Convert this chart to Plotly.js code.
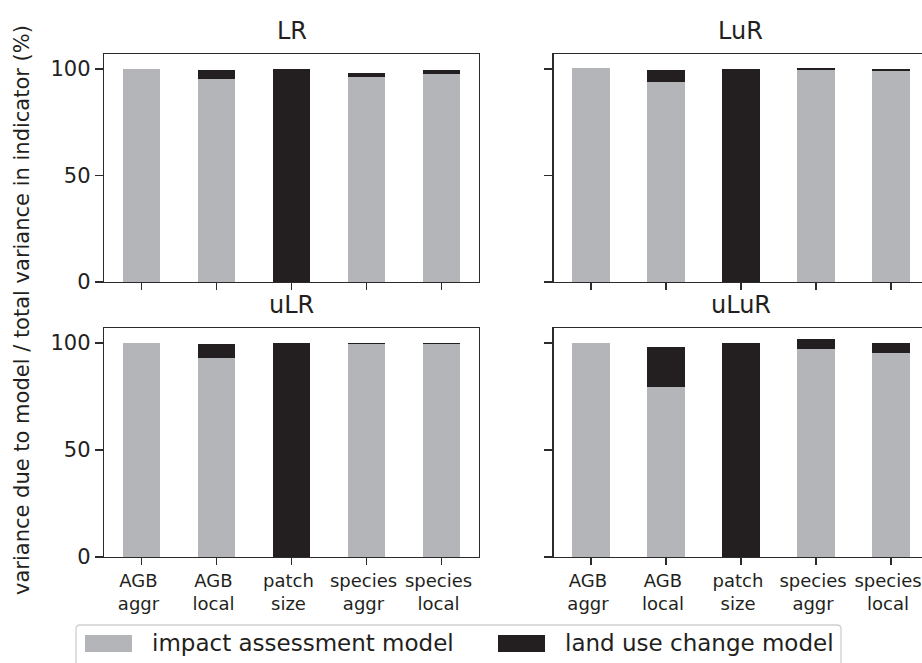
<!DOCTYPE html>
<html>
<head>
<meta charset="utf-8">
<script src="https://cdn.plot.ly/plotly-3.0.1.min.js"></script>
<style>html,body{margin:0;padding:0;background:#fff;}#chart{width:922px;height:663px;}</style>
</head>
<body>
<div id="chart"></div>
<script>
// ---- data ----
const categories = ["AGB<br>aggr", "AGB<br>local", "patch<br>size", "species<br>aggr", "species<br>local"];
const panelNames = ["LR", "LuR", "uLR", "uLuR"];
const seriesNames = ["impact assessment model", "land use change model"];

const impactLR   = [100.0, 95.3, 0.0, 96.2, 97.6];
const landuseLR  = [0.0, 4.2, 100.0, 1.9, 1.9];
const impactLuR  = [100.3, 93.9, 0.0, 99.5, 99.1];
const landuseLuR = [0.0, 5.6, 100.0, 0.9, 0.9];
const impactuLR  = [100.0, 93.0, 0.0, 99.5, 99.5];
const landuseuLR = [0.0, 6.5, 100.0, 0.4, 0.4];
const impactuLuR = [100.0, 79.4, 0.0, 97.2, 95.3];
const landuseuLuR= [0.0, 18.7, 100.0, 4.7, 4.7];

const yTicks = [0, 50, 100];

// ---- styling ----
const W = 922, H = 663;
const GREY = "#b4b5b8", BLACK = "#231f20", TXT = "#231f20", LINE = "#2b2b2b";
const FONT = "DejaVu Sans";
const px = v => v / W;            // x pixel -> paper
const py = v => 1 - v / H;        // y pixel (from top) -> paper

const impacts = [impactLR, impactLuR, impactuLR, impactuLuR];
const landuses = [landuseLR, landuseLuR, landuseuLR, landuseuLuR];

const traces = [];
for (let i = 0; i < 4; i++) {
  const ax = i === 0 ? "" : String(i + 1);
  traces.push({type: "bar", x: categories, y: impacts[i], name: seriesNames[0],
    marker: {color: GREY, line: {width: 0}}, width: 0.5,
    xaxis: "x" + ax, yaxis: "y" + ax, showlegend: false, hoverinfo: "skip"});
  traces.push({type: "bar", x: categories, y: landuses[i], name: seriesNames[1],
    marker: {color: BLACK, line: {width: 0}}, width: 0.5,
    xaxis: "x" + ax, yaxis: "y" + ax, showlegend: false, hoverinfo: "skip"});
}

const xDomL = [px(104), px(479)];
const xDomR = [px(553.5), 1];
const yDomT = [py(282), py(54)];
const yDomB = [py(557), py(328)];

function xAxis(domain, anchor, showLabels, right) {
  return {domain, anchor, type: "category", categoryorder: "array", categoryarray: categories,
    range: right ? [-0.5, 4.413] : [-0.5, 4.5], showgrid: false, zeroline: false,
    showline: true, mirror: true, linecolor: LINE, linewidth: 1.3,
    ticks: "outside", ticklen: 7, tickwidth: 1.3, tickcolor: LINE, ticklabelshift: -3,
    showticklabels: showLabels, tickfont: {family: FONT, size: 18, color: TXT}, fixedrange: true};
}
function yAxis(domain, anchor, showLabels, right) {
  return {domain, anchor, range: [0, 107], tickvals: yTicks, ticktext: yTicks.map(String),
    showgrid: false, zeroline: false, showline: true, mirror: !right, linecolor: LINE, linewidth: 1.3,
    ticks: "outside", ticklen: 8, tickwidth: 1.3, tickcolor: LINE,
    showticklabels: showLabels, tickfont: {family: FONT, size: 21, color: TXT}, fixedrange: true};
}

const annotations = [];
const titlePos = [[291.5, 31], [740.5, 31], [291.5, 305], [740.5, 305]];
panelNames.forEach((t, i) => annotations.push({text: t, xref: "paper", yref: "paper",
  x: px(titlePos[i][0]), y: py(titlePos[i][1]), xanchor: "center", yanchor: "middle",
  showarrow: false, font: {family: FONT, size: 24, color: TXT}}));
annotations.push({text: "variance due to model / total variance in indicator (%)", textangle: -90,
  xref: "paper", yref: "paper", x: px(22), y: py(310), xanchor: "center", yanchor: "middle",
  showarrow: false, font: {family: FONT, size: 21, color: TXT}});
annotations.push({text: seriesNames[0], xref: "paper", yref: "paper", x: px(150), y: py(643),
  xanchor: "left", yanchor: "middle", showarrow: false, font: {family: FONT, size: 23, color: TXT}});
annotations.push({text: seriesNames[1], xref: "paper", yref: "paper", x: px(563), y: py(643),
  xanchor: "left", yanchor: "middle", showarrow: false, font: {family: FONT, size: 23, color: TXT}});

const shapes = [
  {type: "path", xref: "paper", yref: "paper", layer: "above",
   path: `M ${px(76)},${py(680)} L ${px(76)},${py(629)} Q ${px(76)},${py(625)} ${px(80)},${py(625)} L ${px(837)},${py(625)} Q ${px(841)},${py(625)} ${px(841)},${py(629)} L ${px(841)},${py(680)} Z`,
   line: {color: "#cfcfcf", width: 1.3}, fillcolor: "rgba(255,255,255,0.8)"},
  {type: "rect", xref: "paper", yref: "paper", x0: px(85), x1: px(132), y0: py(652), y1: py(635),
   fillcolor: GREY, line: {width: 0}},
  {type: "rect", xref: "paper", yref: "paper", x0: px(498), x1: px(545), y0: py(652), y1: py(635),
   fillcolor: BLACK, line: {width: 0}}
];

const layout = {
  width: W, height: H, margin: {l: 0, r: 0, t: 0, b: 0},
  paper_bgcolor: "#fff", plot_bgcolor: "#fff", barmode: "stack", showlegend: false,
  font: {family: FONT, color: TXT},
  xaxis:  xAxis(xDomL, "y",  false, false), yaxis:  yAxis(yDomT, "x",  true,  false),
  xaxis2: xAxis(xDomR, "y2", false, true),  yaxis2: yAxis(yDomT, "x2", false, true),
  xaxis3: xAxis(xDomL, "y3", true,  false), yaxis3: yAxis(yDomB, "x3", true,  false),
  xaxis4: xAxis(xDomR, "y4", true,  true),  yaxis4: yAxis(yDomB, "x4", false, true),
  annotations, shapes
};

Plotly.newPlot("chart", traces, layout, {staticPlot: true, displayModeBar: false});
</script>
</body>
</html>
